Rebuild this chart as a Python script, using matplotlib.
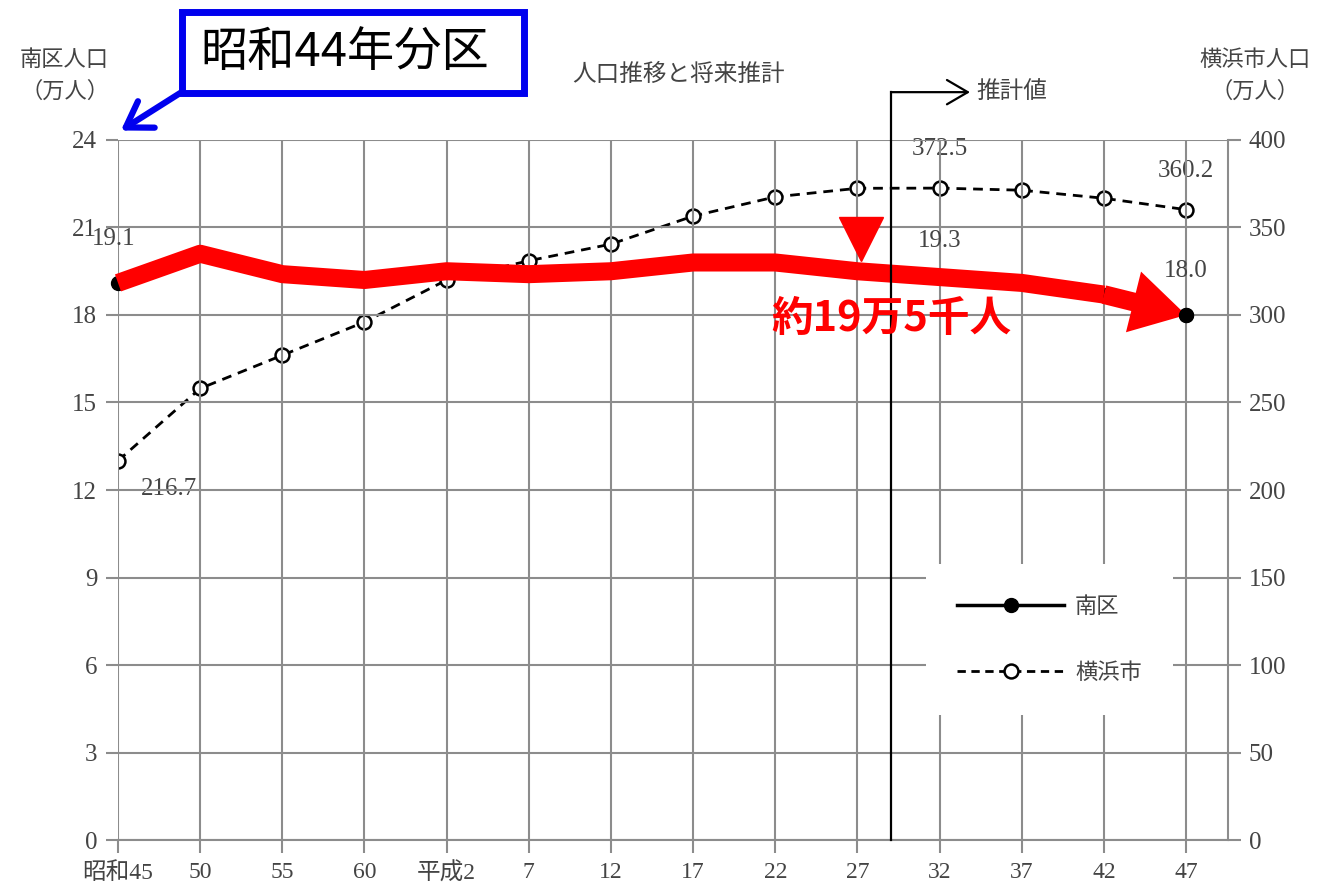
import matplotlib
matplotlib.use("Agg")
import matplotlib.pyplot as plt
import numpy as np
from matplotlib.patches import Rectangle

plt.rcParams["font.family"] = ["Liberation Serif", "Noto Sans CJK JP"]
plt.rcParams["axes.unicode_minus"] = False

# 年次 (昭和45〜平成47)
years = ["昭和45", "50", "55", "60", "平成2", "7", "12", "17", "22", "27",
         "32", "37", "42", "47"]
# 南区人口 (万人)
minami = [19.1, 20.1, 19.4, 19.2, 19.5, 19.4, 19.5, 19.8, 19.8, 19.5,
          19.3, 19.1, 18.7, 18.0]
# 横浜市人口 (万人)
yokohama = [216.7, 258, 277, 296, 320, 331, 340.5, 356.5, 367.5, 372.4,
            372.5, 371.3, 366.7, 360.2]

GRID = "#8c8c8c"
TXT = "#444444"
CJK = ["Noto Sans CJK JP", "DejaVu Sans"]

x = np.arange(len(years))

fig = plt.figure(figsize=(13.17, 8.86), dpi=100)
ax = fig.add_axes([0.0896, 0.0519, 0.8428, 0.7901])
ax2 = ax.twinx()
ax.set_zorder(ax2.zorder + 1)
ax.patch.set_visible(False)

ax.set_xlim(0, 13.51)
ax.set_ylim(0, 24)
ax2.set_ylim(0, 400)
ax.set_yticks(np.arange(0, 25, 3))
ax2.set_yticks(np.arange(0, 401, 50))
ax.set_xticks(x)
ax.set_xticklabels(years)

ax.grid(True, color=GRID, lw=1.5)
ax.set_axisbelow(True)
for a in (ax, ax2):
    for s in a.spines.values():
        s.set_visible(False)
    a.tick_params(colors=GRID, labelcolor=TXT, width=1.5, length=9,
                  labelsize=18, pad=6)
ax.spines["bottom"].set_visible(True)
ax.spines["bottom"].set_color(GRID)
ax.spines["bottom"].set_linewidth(1.5)
ax2.spines["right"].set_visible(True)
ax2.spines["right"].set_color(GRID)
ax2.spines["right"].set_linewidth(1.5)
ax.tick_params(axis="x", labelsize=17, pad=7)

# 横浜市 (右軸)
ax2.plot(x, yokohama, color="black", lw=2, ls=(0, (3.5, 2.5)), marker="o",
         ms=10, mfc="white", mec="black", mew=1.8, zorder=3)

# 南区 (左軸)
ax.plot(x, minami, color="black", lw=2.5, marker="o", ms=10, zorder=3,
        clip_on=False)

# 赤の強調線と矢印
ax.plot(x[:-1], minami[:-1], color="red", lw=13, solid_joinstyle="round",
        solid_capstyle="butt", zorder=4, clip_on=False)
ax.annotate("", xy=(x[-1], minami[-1]), xytext=(x[-2], minami[-2]),
            arrowprops=dict(arrowstyle="simple,head_length=1.3,head_width=1.5,tail_width=0.45",
                            mutation_scale=30, color="red", lw=0,
                            shrinkA=0, shrinkB=0), zorder=4)
ax.plot(x[-1:], minami[-1:], color="black", marker="o", ms=10, lw=0, zorder=5)

# 平成27年の目印
ax.plot([x[9] + 0.04], [minami[9] + 1.1], marker="v", color="red", ms=32,
        lw=0, zorder=5, clip_on=False)
ax.text(9.41, 17.85, "約19万5千人", color="red", fontsize=30,
        fontweight="bold", family=CJK, ha="center", va="center", zorder=6)

# 推計値の境界線
xb = 9.41
ax.plot([xb, xb], [0, 25.64], color="black", lw=1.6, clip_on=False, zorder=5)
ax.annotate("", xy=(10.37, 25.64), xytext=(xb, 25.64),
            arrowprops=dict(arrowstyle="->,head_length=0.6,head_width=0.35",
                            mutation_scale=25, lw=1.6, color="black",
                            shrinkA=0, shrinkB=0),
            annotation_clip=False)
ax.text(10.45, 25.64, "推計値", fontsize=17, family=CJK, color=TXT,
        va="center", ha="left")

# 数値ラベル
lab = dict(fontsize=18, color=TXT, ha="center")
ax.text(-0.05, 20.6, f"{minami[0]:.1f}", va="center", **lab)
ax.text(x[10], 20.55, f"{minami[10]:.1f}", va="center", **lab)
ax.text(x[13], 19.5, f"{minami[13]:.1f}", va="center", **lab)
ax2.text(0.62, 200.5, f"{yokohama[0]:.1f}", va="center", **lab)
ax2.text(x[10], 395, f"{yokohama[10]:.1f}", va="center", **lab)
ax2.text(x[13], 382, f"{yokohama[13]:.1f}", va="center", **lab)

# 凡例
h1, = ax.plot([], [], color="black", lw=2.5, marker="o", ms=10)
h2, = ax.plot([], [], color="black", lw=2, ls=(0, (3, 2)), marker="o", ms=10,
              mfc="white", mec="black", mew=1.8)
leg = ax.legend([h1, h2], ["南区", "横浜市"], loc="upper left",
                bbox_to_anchor=(0.718, 0.41), frameon=True, fancybox=False,
                handlelength=4.8, labelspacing=1.9, borderpad=1.4,
                handletextpad=0.5, prop={"family": CJK, "size": 16})
leg.get_frame().set_facecolor("white")
leg.get_frame().set_edgecolor("none")
leg.get_frame().set_alpha(1)
for t in leg.get_texts():
    t.set_color(TXT)

# 見出し
fig.text(0.515, 0.916, "人口推移と将来推計", fontsize=17, family=CJK,
         color=TXT, ha="center", va="center")
fig.text(0.049, 0.915, "南区人口\n（万人）", fontsize=16, family=CJK,
         color=TXT, ha="center", va="center", linespacing=1.5)
fig.text(0.953, 0.915, "横浜市人口\n（万人）", fontsize=16, family=CJK,
         color=TXT, ha="center", va="center", linespacing=1.5)

# 分区の注記
fig.patches.append(Rectangle((0.138, 0.895), 0.26, 0.092, transform=fig.transFigure,
                             fill=False, edgecolor="#0000ee", lw=5))
fig.text(0.262, 0.941, "昭和44年分区", fontsize=34, family=CJK, color="black",
         ha="center", va="center")
fig.add_artist(matplotlib.patches.FancyArrowPatch(
    (0.140, 0.898), (0.090, 0.851), transform=fig.transFigure,
    arrowstyle="->,head_length=0.7,head_width=0.45", mutation_scale=25,
    lw=4.5, color="#0000ee"))

fig.savefig("out.png", dpi=100)
